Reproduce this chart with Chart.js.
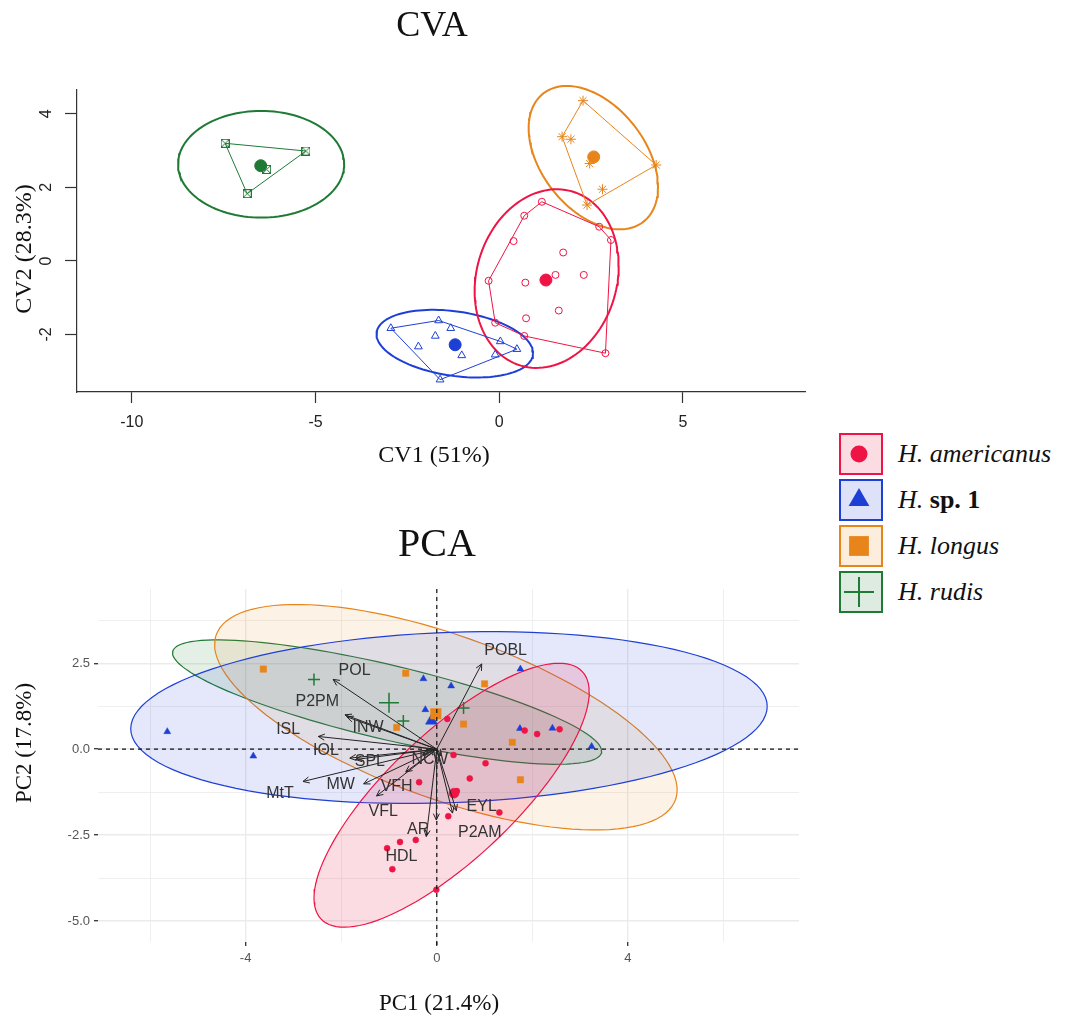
<!DOCTYPE html>
<html>
<head>
<meta charset="utf-8">
<script src="https://cdn.jsdelivr.net/npm/chart.js@4"></script>
<style>
  body { margin: 0; background: #fff; }
  #page { position: relative; width: 1078px; height: 1019px; overflow: hidden; background: #fff; }
  #page canvas { position: absolute; left: 0; }
  #legend { position: absolute; left: 839px; top: 433px; font-family: 'Liberation Serif', 'Times New Roman', serif; font-size: 26px; color: #111; }
  .item { display: flex; align-items: center; height: 42px; margin-bottom: 4px; }
  .item canvas { position: static; }
  .key { width: 40px; height: 38px; border: 2px solid; margin-right: 15px; }
  .key canvas { display: block; }
</style>
</head>
<body>
<div id="page">
  <canvas id="cva" width="820" height="480" style="top:0"></canvas>
  <canvas id="pca" width="820" height="519" style="top:500px"></canvas>
  <div id="legend"></div>
</div>
<script>
// species, colours
const species = ['americanus', 'sp. 1', 'longus', 'rudis'];
const colors = ['#EE1445', '#1E3FD6', '#E8851A', '#1F7A35'];
const fills = ['rgba(238,20,69,0.15)', 'rgba(30,63,214,0.12)', 'rgba(232,133,26,0.11)', 'rgba(31,122,53,0.12)'];

// ---- CVA scores ----
const cvaAmerX = [1.16, 0.68, 0.39, 1.74, -0.29, 0.71, 1.53, 2.30, 1.62, 0.73, -0.11, 0.68, 2.89, 3.04, 2.72];
const cvaAmerY = [1.61, 1.23, 0.54, 0.23, -0.54, -0.59, -0.38, -0.38, -1.35, -1.56, -1.68, -2.04, -2.51, 0.57, 0.93];
const cvaSp1X = [-2.95, -1.65, -1.32, -1.74, -2.20, -1.02, 0.03, 0.48, -0.11, -1.61];
const cvaSp1Y = [-1.83, -1.62, -1.83, -2.04, -2.33, -2.57, -2.19, -2.40, -2.55, -3.23];
const cvaLongX = [2.28, 1.71, 1.95, 4.27, 2.81, 2.39, 2.46];
const cvaLongY = [4.36, 3.38, 3.31, 2.61, 1.95, 1.52, 2.65];
const cvaRudX = [-7.46, -5.26, -6.86, -6.33];
const cvaRudY = [3.20, 2.99, 1.83, 2.49];
const cvaCentX = [1.27, -1.20, 2.57, -6.49];
const cvaCentY = [-0.52, -2.28, 2.83, 2.59];
// confidence ellipses: centre, half extents, correlation
const cvaEllCx = [1.29, -1.21, 2.56, -6.48];
const cvaEllCy = [-0.48, -2.25, 2.81, 2.63];
const cvaEllSx = [1.96, 2.13, 1.76, 2.26];
const cvaEllSy = [2.43, 0.92, 1.95, 1.45];
const cvaEllRho = [0.14, -0.28, -0.41, 0.0];
const cvaXTicks = [-10, -5, 0, 5];
const cvaYTicks = [-2, 0, 2, 4];

// ---- PCA scores ----
const pcaAmerX = [0.22, 0.35, 1.02, 0.69, -0.37, 1.84, 2.10, 2.57, 0.42, 1.31, 0.24, -0.01, -0.44, -0.77, -1.04, -0.93];
const pcaAmerY = [0.88, -0.17, -0.41, -0.85, -0.96, 0.54, 0.44, 0.58, -1.22, -1.84, -1.95, -4.09, -2.64, -2.70, -2.88, -3.49];
const pcaSp1X = [-5.64, -3.84, -0.28, 0.30, -0.24, 1.75, 1.74, 2.42, 3.24];
const pcaSp1Y = [0.51, -0.20, 2.05, 1.84, 1.15, 2.33, 0.60, 0.61, 0.08];
const pcaLongX = [-3.63, -0.65, -0.84, 1.00, 0.56, 1.58, 1.75];
const pcaLongY = [2.33, 2.21, 0.63, 1.90, 0.73, 0.20, -0.89];
const pcaRudX = [-2.57, -0.70, 0.56];
const pcaRudY = [2.03, 0.82, 1.20];
const pcaCentX = [0.36, -0.11, -0.02, -1.00];
const pcaCentY = [-1.28, 0.83, 1.03, 1.35];
const pcaEllCx = [0.31, 0.255, 0.19, -1.04];
const pcaEllCy = [-1.34, 0.92, 0.93, 1.37];
const pcaEllSx = [2.88, 6.66, 4.84, 4.49];
const pcaEllSy = [3.84, 2.50, 3.28, 1.81];
const pcaEllRho = [0.78, 0.13, -0.645, -0.79];
const pcaXTicks = [-6, -4, -2, 0, 2, 4, 6];
const pcaXLabels = [-4, 0, 4];
const pcaYTicks = [-5, -3.75, -2.5, -1.25, 0, 1.25, 2.5, 3.75];
const pcaYLabels = [-5, -2.5, 0, 2.5];

// variable loadings (arrow tips) and label spots
const varNames = ['POL', 'P2PM', 'INW', 'ISL', 'IOL', 'SPL', 'MtT', 'MW', 'VFH', 'VFL', 'NC', 'W', 'EYL', 'P2AM', 'AR', 'HDL', 'POBL'];
const tipX = [-2.17, -1.92, -1.88, -2.48, -1.82, -1.70, -2.80, -1.53, -0.65, -1.26, -0.30, 0.10, 0.41, 0.33, -0.22, -0.01, 0.94];
const tipY = [2.03, 1.00, 0.94, 0.37, -0.26, -0.30, -0.94, -1.01, -0.66, -1.36, -0.15, -0.20, -1.79, -1.86, -2.54, -2.06, 2.48];
const labX = [-1.72, -2.50, -1.44, -3.11, -2.32, -1.40, -3.28, -2.01, -0.84, -1.12, -0.29, 0.08, 0.94, 0.90, -0.39, -0.74, 1.44];
const labY = [2.28, 1.37, 0.64, 0.56, -0.04, -0.36, -1.28, -1.04, -1.09, -1.81, -0.31, -0.31, -1.67, -2.44, -2.33, -3.12, 2.87];

const SERIF = "'Liberation Serif', 'Times New Roman', serif";
const SANS = "'Liberation Sans', Arial, sans-serif";

function toPts(xs, ys) { return xs.map((v, j) => ({x: v, y: ys[j]})); }

function ellipsePts(cx, cy, sx, sy, rho) {
  const k = Math.sqrt(1 - rho * rho), out = [];
  for (let i = 0; i <= 120; i++) {
    const t = i / 120 * 2 * Math.PI;
    out.push({x: cx + sx * Math.cos(t), y: cy + sy * (rho * Math.cos(t) + k * Math.sin(t))});
  }
  return out;
}

// convex hull, closed
function hull(pts) {
  const p = pts.slice().sort((a, b) => a.x - b.x || a.y - b.y);
  const cr = (o, a, b) => (a.x - o.x) * (b.y - o.y) - (a.y - o.y) * (b.x - o.x);
  const lo = [], up = [];
  for (const q of p) { while (lo.length > 1 && cr(lo[lo.length - 2], lo[lo.length - 1], q) <= 0) lo.pop(); lo.push(q); }
  for (const q of p.reverse()) { while (up.length > 1 && cr(up[up.length - 2], up[up.length - 1], q) <= 0) up.pop(); up.push(q); }
  lo.pop(); up.pop();
  const h = lo.concat(up);
  h.push(h[0]);
  return h;
}

// small boxed-x marker for rudis in the CVA
function boxX(color) {
  const c = document.createElement('canvas');
  c.width = c.height = 9;
  const g = c.getContext('2d');
  g.strokeStyle = color; g.lineWidth = 1;
  g.strokeRect(0.5, 0.5, 8, 8);
  g.beginPath(); g.moveTo(1, 1); g.lineTo(8, 8); g.moveTo(8, 1); g.lineTo(1, 8); g.stroke();
  return c;
}

function textPlugin(items) {
  return {
    id: 'txt',
    afterDraw(chart) {
      const c = chart.ctx;
      items.forEach(t => {
        c.save();
        c.font = t.font; c.fillStyle = t.color || '#111';
        c.textAlign = 'center'; c.textBaseline = 'middle';
        c.translate(t.x, t.y);
        if (t.rot) c.rotate(t.rot);
        c.fillText(t.text, 0, 0);
        c.restore();
      });
    }
  };
}

// R style y labels, turned parallel to the axis
const rotYTicks = {
  id: 'rotYTicks',
  afterDraw(chart) {
    const s = chart.scales.y, c = chart.ctx;
    c.save();
    c.font = '16px ' + SANS; c.fillStyle = '#222';
    c.textAlign = 'center'; c.textBaseline = 'middle';
    s.ticks.forEach(t => {
      c.save();
      c.translate(chart.chartArea.left - 30, s.getPixelForValue(t.value));
      c.rotate(-Math.PI / 2);
      c.fillText(String(t.value), 0, 0);
      c.restore();
    });
    c.restore();
  }
};

const zeroLines = {
  id: 'zeroLines',
  afterDatasetsDraw(chart) {
    const {ctx, chartArea: a, scales: {x, y}} = chart;
    const px = x.getPixelForValue(0), py = y.getPixelForValue(0);
    ctx.save();
    ctx.strokeStyle = '#111'; ctx.lineWidth = 1.2; ctx.setLineDash([4, 4]);
    ctx.beginPath();
    ctx.moveTo(px, a.top); ctx.lineTo(px, a.bottom + 4);
    ctx.moveTo(a.left, py); ctx.lineTo(a.right, py);
    ctx.stroke();
    ctx.restore();
  }
};

const loadings = {
  id: 'loadings',
  afterDatasetsDraw(chart) {
    const {ctx, scales: {x, y}} = chart;
    const x0 = x.getPixelForValue(0), y0 = y.getPixelForValue(0), h = 7;
    ctx.save();
    ctx.strokeStyle = '#222'; ctx.lineWidth = 1;
    varNames.forEach((n, i) => {
      const x1 = x.getPixelForValue(tipX[i]), y1 = y.getPixelForValue(tipY[i]);
      const a = Math.atan2(y1 - y0, x1 - x0);
      ctx.beginPath();
      ctx.moveTo(x0, y0); ctx.lineTo(x1, y1);
      ctx.moveTo(x1 - h * Math.cos(a - 0.45), y1 - h * Math.sin(a - 0.45));
      ctx.lineTo(x1, y1);
      ctx.lineTo(x1 - h * Math.cos(a + 0.45), y1 - h * Math.sin(a + 0.45));
      ctx.stroke();
    });
    ctx.font = '16px ' + SANS; ctx.fillStyle = '#333';
    ctx.textAlign = 'center'; ctx.textBaseline = 'middle';
    varNames.forEach((n, i) => ctx.fillText(n, x.getPixelForValue(labX[i]), y.getPixelForValue(labY[i])));
    ctx.restore();
  }
};

const base = {
  responsive: false, animation: false, events: [], devicePixelRatio: 1,
  plugins: {legend: {display: false}, tooltip: {enabled: false}, title: {display: false}},
  elements: {line: {tension: 0}}
};

// ---------- CVA ----------
const cvaX = [cvaAmerX, cvaSp1X, cvaLongX, cvaRudX];
const cvaY = [cvaAmerY, cvaSp1Y, cvaLongY, cvaRudY];
const cvaMarks = ['circle', 'triangle', 'star', boxX(colors[3])];
const cvaSizes = [3.5, 4.5, 5, 4.5];
const cvaSets = [];
species.forEach((s, i) => {
  const pts = toPts(cvaX[i], cvaY[i]);
  cvaSets.push({data: pts, pointStyle: cvaMarks[i], pointRadius: cvaSizes[i], borderColor: colors[i],
    backgroundColor: 'rgba(0,0,0,0)', pointBorderWidth: 1, order: 1, clip: false});
  cvaSets.push({data: hull(pts), showLine: true, borderColor: colors[i], borderWidth: 1, pointRadius: 0, order: 2, clip: false});
  cvaSets.push({data: ellipsePts(cvaEllCx[i], cvaEllCy[i], cvaEllSx[i], cvaEllSy[i], cvaEllRho[i]),
    showLine: true, borderColor: colors[i], borderWidth: 2, pointRadius: 0, order: 3, clip: false});
  cvaSets.push({data: [{x: cvaCentX[i], y: cvaCentY[i]}], pointStyle: 'circle', pointRadius: 6,
    backgroundColor: colors[i], borderColor: colors[i], order: 0, clip: false});
});

new Chart(document.getElementById('cva'), {
  type: 'scatter',
  data: {datasets: cvaSets},
  options: Object.assign({}, base, {
    layout: {padding: {top: 90, left: 0, right: 15, bottom: 0}},
    scales: {
      x: {
        type: 'linear', min: -11.49, max: 8.32,
        afterBuildTicks: sc => { sc.ticks = cvaXTicks.map(v => ({value: v})); },
        afterFit: sc => { sc.height = 88; },
        border: {display: true, color: '#333', width: 1.2},
        grid: {drawOnChartArea: false, drawTicks: true, tickLength: 11, tickColor: '#333', tickWidth: 1.2},
        ticks: {font: {family: SANS, size: 16}, color: '#222', padding: 10, maxRotation: 0, autoSkip: false}
      },
      y: {
        type: 'linear', min: -3.565, max: 4.65,
        afterBuildTicks: sc => { sc.ticks = cvaYTicks.map(v => ({value: v})); },
        afterFit: sc => { sc.width = 77; },
        border: {display: true, color: '#333', width: 1.2},
        grid: {drawOnChartArea: false, drawTicks: true, tickLength: 12, tickColor: '#333', tickWidth: 1.2},
        ticks: {display: false}
      }
    }
  }),
  plugins: [rotYTicks, textPlugin([
    {text: 'CVA', x: 432, y: 27, font: '36px ' + SERIF},
    {text: 'CV1 (51%)', x: 434, y: 456, font: '24px ' + SERIF},
    {text: 'CV2 (28.3%)', x: 25, y: 249, font: '24px ' + SERIF, rot: -Math.PI / 2}
  ])]
});

// ---------- PCA ----------
const pcaX = [pcaAmerX, pcaSp1X, pcaLongX, pcaRudX];
const pcaY = [pcaAmerY, pcaSp1Y, pcaLongY, pcaRudY];
const pcaMarks = ['circle', 'triangle', 'rect', 'cross'];
const pcaSizes = [3, 4, 4.5, 6];
const pcaCentSizes = [5, 7, 7.5, 10];
const pcaSets = [];
species.forEach((s, i) => {
  pcaSets.push({data: ellipsePts(pcaEllCx[i], pcaEllCy[i], pcaEllSx[i], pcaEllSy[i], pcaEllRho[i]),
    showLine: true, fill: 'shape', backgroundColor: fills[i], borderColor: colors[i], borderWidth: 1.2,
    pointRadius: 0, order: 3});
  pcaSets.push({data: toPts(pcaX[i], pcaY[i]), pointStyle: pcaMarks[i], pointRadius: pcaSizes[i],
    backgroundColor: colors[i], borderColor: colors[i], pointBorderWidth: i === 3 ? 1.5 : 0.5, order: 1});
  pcaSets.push({data: [{x: pcaCentX[i], y: pcaCentY[i]}], pointStyle: pcaMarks[i], pointRadius: pcaCentSizes[i],
    backgroundColor: colors[i], borderColor: colors[i], pointBorderWidth: i === 3 ? 1.5 : 0.5, order: 0.5 - i * 0.1});
});

const isMajX = v => pcaXLabels.includes(v);
const isMajY = v => pcaYLabels.includes(v);

new Chart(document.getElementById('pca'), {
  type: 'scatter',
  data: {datasets: pcaSets},
  options: Object.assign({}, base, {
    layout: {padding: {top: 89, left: 0, right: 21, bottom: 0}},
    scales: {
      x: {
        type: 'linear', min: -7.09, max: 7.58,
        afterBuildTicks: sc => { sc.ticks = pcaXTicks.map(v => ({value: v})); },
        afterFit: sc => { sc.height = 77; },
        border: {display: false},
        grid: {color: '#ebebeb', lineWidth: c => isMajX(c.tick.value) ? 1.4 : 0.8, drawTicks: true, tickLength: 4,
          tickColor: c => isMajX(c.tick.value) ? '#333' : 'rgba(0,0,0,0)', tickWidth: 1.3},
        ticks: {font: {family: SANS, size: 13}, color: '#555', padding: 5, maxRotation: 0, autoSkip: false,
          callback: v => isMajX(v) ? String(v) : ''}
      },
      y: {
        type: 'linear', min: -5.61, max: 4.66,
        afterBuildTicks: sc => { sc.ticks = pcaYTicks.map(v => ({value: v})); },
        afterFit: sc => { sc.width = 98; },
        border: {display: false},
        grid: {color: '#ebebeb', lineWidth: c => isMajY(c.tick.value) ? 1.4 : 0.8, drawTicks: true, tickLength: 4,
          tickColor: c => isMajY(c.tick.value) ? '#333' : 'rgba(0,0,0,0)', tickWidth: 1.3},
        ticks: {font: {family: SANS, size: 13}, color: '#555', padding: 4, autoSkip: false,
          callback: v => isMajY(v) ? v.toFixed(1) : ''}
      }
    }
  }),
  plugins: [zeroLines, loadings, textPlugin([
    {text: 'PCA', x: 437, y: 45, font: '40px ' + SERIF},
    {text: 'PC1 (21.4%)', x: 439, y: 504, font: '23px ' + SERIF},
    {text: 'PC2 (17.8%)', x: 25, y: 243, font: '23px ' + SERIF, rot: -Math.PI / 2}
  ])]
});

// ---------- legend ----------
const legMarks = [
  {pointStyle: 'circle', radius: 8.5, borderWidth: 0},
  {pointStyle: 'triangle', radius: 12, borderWidth: 0},
  {pointStyle: 'rect', radius: 14, borderWidth: 0},
  {pointStyle: 'cross', radius: 15, borderWidth: 2}
];
const legend = document.getElementById('legend');
species.forEach((s, i) => {
  const item = document.createElement('div');
  item.className = 'item';
  const key = document.createElement('div');
  key.className = 'key';
  key.style.borderColor = colors[i];
  key.style.background = fills[i].replace(/[\d.]+\)$/, '0.15)');
  const cv = document.createElement('canvas');
  cv.width = 40; cv.height = 38;
  const g = cv.getContext('2d');
  g.fillStyle = colors[i]; g.strokeStyle = colors[i]; g.lineWidth = legMarks[i].borderWidth || 1;
  Chart.helpers.drawPoint(g, Object.assign({rotation: 0}, legMarks[i]), 20, 19);
  key.appendChild(cv);
  const lab = document.createElement('span');
  lab.innerHTML = s === 'sp. 1' ? '<i>H.</i> <b>sp. 1</b>' : '<i>H. ' + s + '</i>';
  item.appendChild(key);
  item.appendChild(lab);
  legend.appendChild(item);
});
</script>
</body>
</html>
